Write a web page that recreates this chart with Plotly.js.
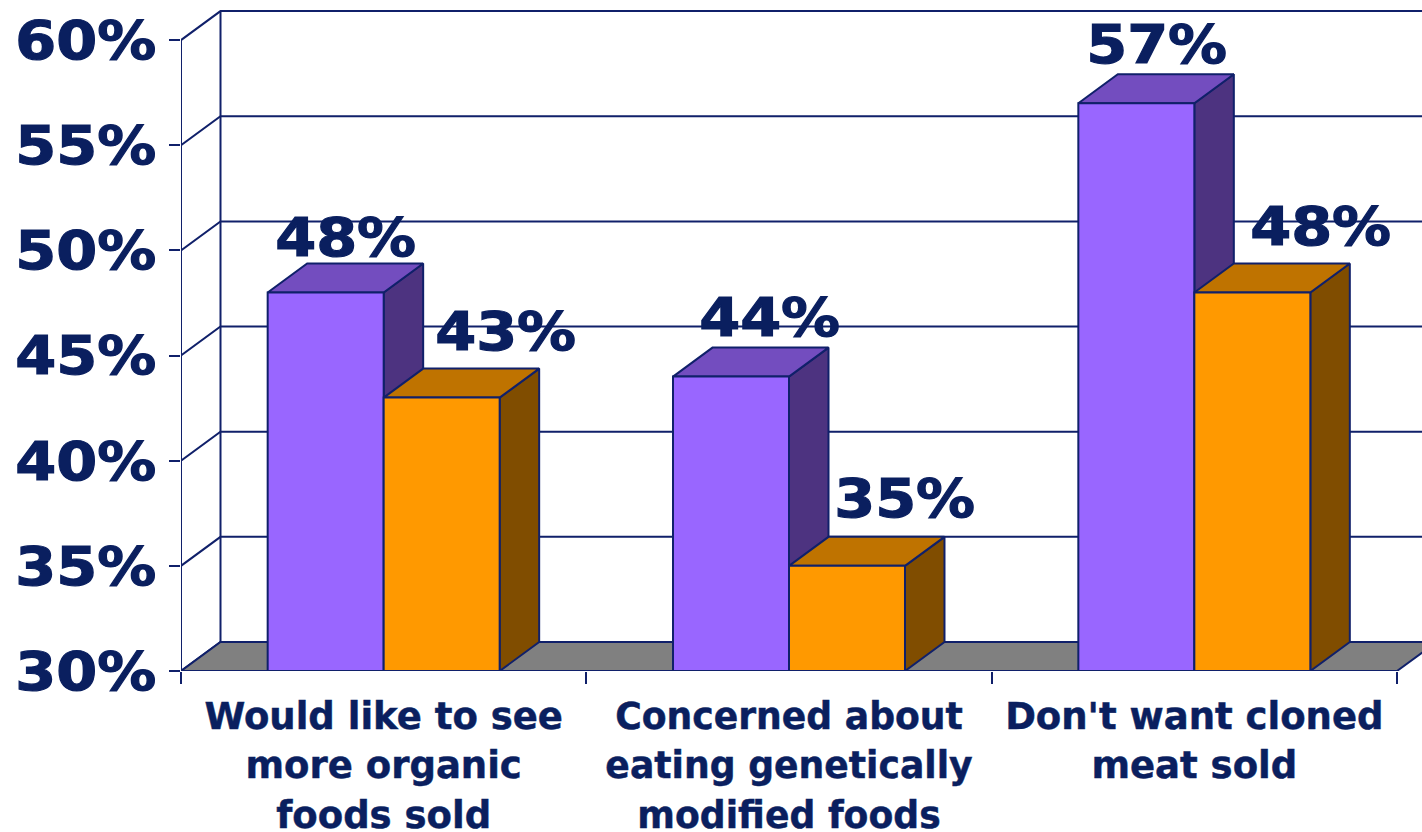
<!DOCTYPE html>
<html>
<head>
<meta charset="utf-8">
<script src="https://cdn.plot.ly/plotly-3.0.1.min.js"></script>
<style>
  html, body { margin: 0; padding: 0; background: #fff; overflow: hidden; }
  #chart { width: 1422px; height: 832px; }
</style>
</head>
<body>
<div id="chart"></div>
<script>
// Survey responses by category
const categories = [
  "Would like to see<br>more organic<br>foods sold",
  "Concerned about<br>eating genetically<br>modified foods",
  "Don't want cloned<br>meat sold"
];
const purpleValues = [48, 44, 57];
const orangeValues = [43, 35, 48];
const yTicks = [30, 35, 40, 45, 50, 55, 60];

// Hand-placed data label offsets, in pixels from the top front edge of each bar
const purpleLabelShiftX = [20, 38, 20];
const purpleLabelShiftY = [55, 59, 59];
const orangeLabelShiftX = [64, 57, 68];
const orangeLabelShiftY = [66, 67, 66];

const NAVY = "#0a1f5f";
const EDGE = "#10206a";
const FONT = "'DejaVu Sans', Verdana, sans-serif";

// Pseudo-3D projection, expressed in axis units
const PX_PER_CAT = 405.33, PX_PER_PCT = 21.03;
const DX = 39.5 / PX_PER_CAT;
const DY = 29 / PX_PER_PCT;
const BAR_W = 116 / PX_PER_CAT;
const X_MIN = -0.5, X_MAX = 2.5;
const Y_MIN = 30;

function poly(xs, ys, fill, lineWidth) {
  return {
    type: "scatter", mode: "lines", x: xs, y: ys,
    fill: "toself", fillcolor: fill,
    line: { color: EDGE, width: lineWidth === undefined ? 2 : lineWidth, shape: "linear" },
    hoverinfo: "skip", showlegend: false, cliponaxis: false
  };
}

function box(x0, x1, top, colors) {
  return [
    // side, top, then front so nearer faces cover the ones behind
    poly([x1, x1 + DX, x1 + DX, x1, x1], [Y_MIN, Y_MIN + DY, top + DY, top, Y_MIN], colors.side),
    poly([x0, x1, x1 + DX, x0 + DX, x0], [top, top, top + DY, top + DY, top], colors.top),
    poly([x0, x1, x1, x0, x0], [Y_MIN, Y_MIN, top, top, Y_MIN], colors.front)
  ];
}

const purple = { front: "#9966ff", top: "#734dbf", side: "#4d3380" };
const orange = { front: "#ff9900", top: "#bf7300", side: "#804d00" };

const traces = [];

// Back wall with its grid lines, each stepping out from the front axis tick
const gx = [], gy = [];
yTicks.forEach(v => {
  gx.push(X_MIN, X_MIN + DX, X_MAX + DX, null);
  gy.push(v, v + DY, v + DY, null);
});
gx.push(X_MIN + DX, X_MIN + DX);
gy.push(Y_MIN + DY, 60 + DY);
traces.push({
  type: "scatter", mode: "lines", x: gx, y: gy, connectgaps: false,
  line: { color: EDGE, width: 2 }, hoverinfo: "skip", showlegend: false, cliponaxis: false
});

// Front value axis
traces.push({
  type: "scatter", mode: "lines", x: [X_MIN, X_MIN], y: [Y_MIN, 60],
  line: { color: EDGE, width: 2 }, hoverinfo: "skip", showlegend: false, cliponaxis: false
});

// Floor
traces.push(poly(
  [X_MIN, X_MAX, X_MAX + DX, X_MIN + DX, X_MIN],
  [Y_MIN, Y_MIN, Y_MIN + DY, Y_MIN + DY, Y_MIN],
  "#808080"
));

// Bars, left to right
categories.forEach((c, i) => {
  traces.push(...box(i - BAR_W, i, purpleValues[i], purple));
  traces.push(...box(i, i + BAR_W, orangeValues[i], orange));
});

// Data labels
const annotations = [];
categories.forEach((c, i) => {
  [[purpleValues, -BAR_W / 2, purpleLabelShiftX, purpleLabelShiftY],
   [orangeValues,  BAR_W / 2, orangeLabelShiftX, orangeLabelShiftY]].forEach(([vals, off, sx, sy]) => {
    annotations.push({
      x: i + off, y: vals[i], xref: "x", yref: "y",
      text: vals[i] + "%", showarrow: false,
      xanchor: "center", yanchor: "middle",
      xshift: sx[i], yshift: sy[i],
      font: { family: FONT, size: 54, weight: 700, color: NAVY }
    });
  });
});

const layout = {
  width: 1422, height: 832,
  margin: { l: 181, r: 0, t: 0, b: 161, pad: 0 },
  paper_bgcolor: "#fff", plot_bgcolor: "rgba(0,0,0,0)",
  showlegend: false,
  annotations: annotations,
  xaxis: {
    range: [X_MIN, X_MIN + 1241 / PX_PER_CAT], autorange: false, fixedrange: true,
    showgrid: false, zeroline: false, showline: false,
    tickmode: "array", tickvals: [0, 1, 2], ticktext: categories,
    ticks: "", ticklabelstandoff: 20, tickangle: 0,
    tickfont: { family: FONT, size: 37, weight: 700, color: NAVY },
    minor: { tickmode: "array", tickvals: [-0.5, 0.5, 1.5, 2.5], ticks: "outside", ticklen: 12, tickwidth: 2, tickcolor: EDGE, showgrid: false }
  },
  yaxis: {
    range: [Y_MIN, Y_MIN + 671 / PX_PER_PCT], autorange: false, fixedrange: true,
    showgrid: false, zeroline: false, showline: false,
    tickmode: "array", tickvals: yTicks, ticktext: yTicks.map(v => v + "%"),
    ticks: "outside", ticklen: 11, tickwidth: 2, tickcolor: EDGE,
    ticklabelstandoff: 2,
    tickfont: { family: FONT, size: 54, weight: 700, color: NAVY }
  }
};

Plotly.newPlot("chart", traces, layout, { displayModeBar: false, staticPlot: true }).then(() => {
  // Widen and thicken the large percent figures
  document.querySelectorAll("#chart .ytick text, #chart .annotation-text").forEach(t => {
    t.setAttribute("textLength", "141");
    t.setAttribute("lengthAdjust", "spacingAndGlyphs");
    t.style.stroke = NAVY;
    t.style.strokeWidth = "1.2px";
  });
  // Category labels: slightly heavier, with more open line spacing
  document.querySelectorAll("#chart .xtick text").forEach(t => {
    t.style.stroke = NAVY;
    t.style.strokeWidth = "0.5px";
    const narrow = t.textContent.startsWith("Concerned");
    t.querySelectorAll("tspan.line").forEach(s => {
      const dy = parseFloat(s.getAttribute("dy"));
      if (dy) s.setAttribute("dy", (dy * 1.335 / 1.3) + "em");
      if (narrow) {
        s.setAttribute("textLength", String(s.getComputedTextLength() * 0.977));
        s.setAttribute("lengthAdjust", "spacingAndGlyphs");
      }
    });
  });
});
</script>
</body>
</html>
